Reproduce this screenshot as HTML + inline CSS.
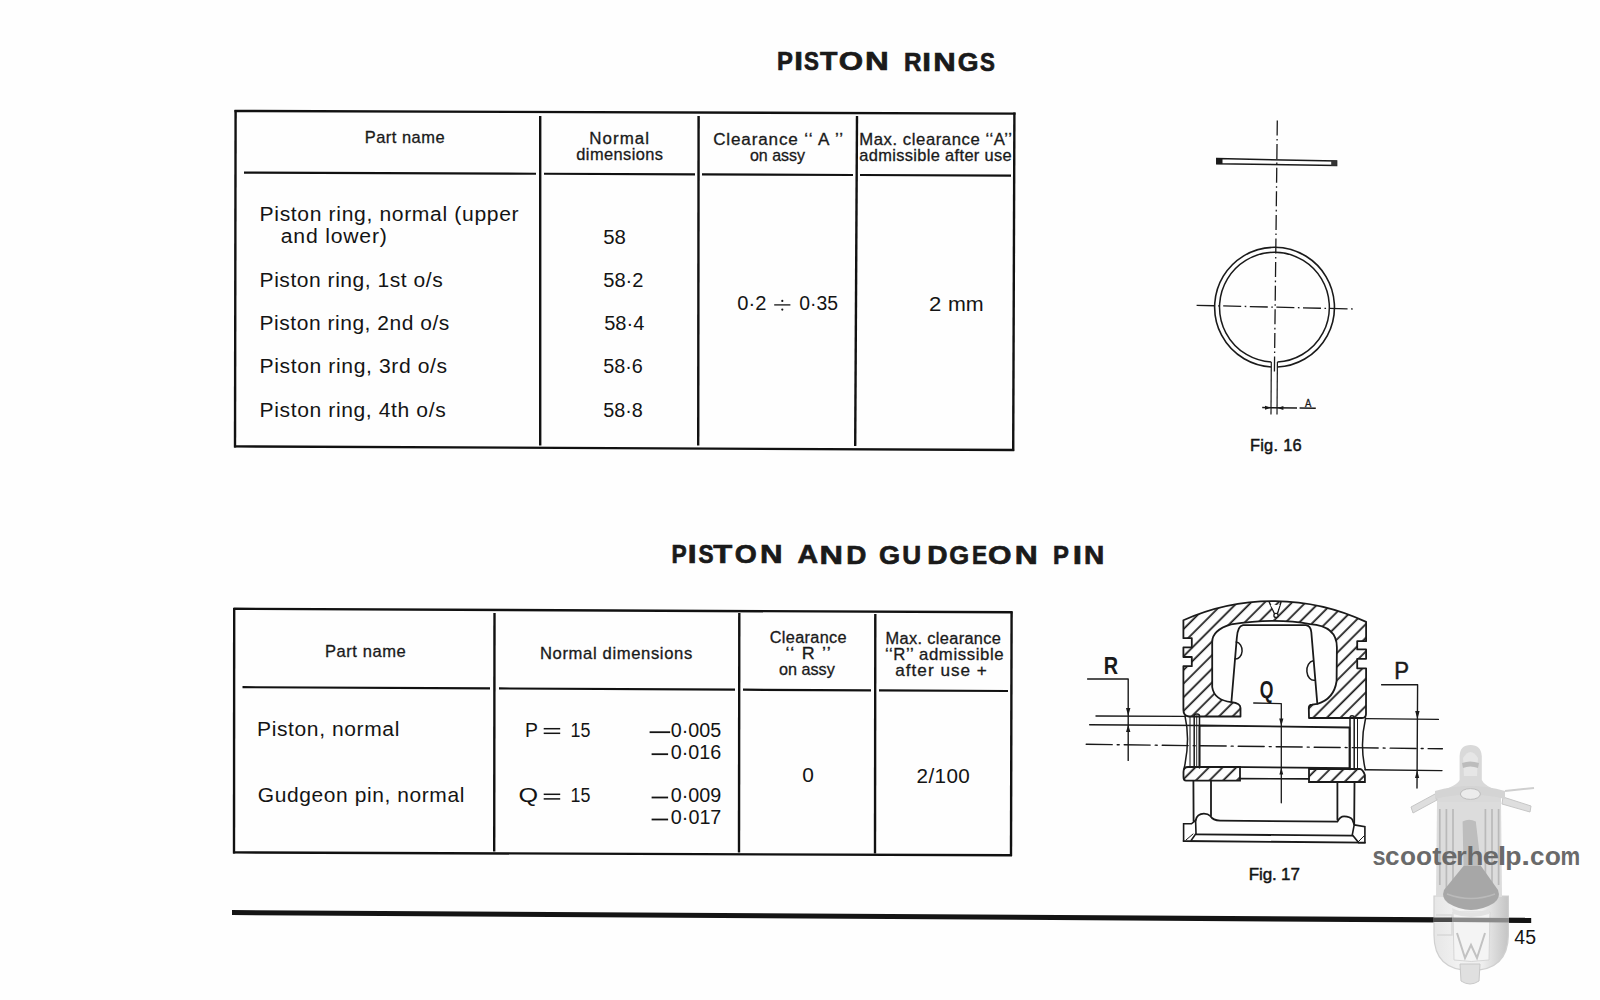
<!DOCTYPE html>
<html><head><meta charset="utf-8"><title>Piston rings</title>
<style>
html,body{margin:0;padding:0;background:#fff;width:1600px;height:1000px;overflow:hidden}
svg{display:block;font-family:"Liberation Sans",sans-serif}
</style></head>
<body>
<svg width="1600" height="1000" viewBox="0 0 1600 1000">
<rect width="1600" height="1000" fill="#fefefe"/>
<line x1="234.5" y1="111" x2="1015.5" y2="113.6" stroke="#111" stroke-width="2.4"/>
<line x1="235.6" y1="110" x2="235.0" y2="447.5" stroke="#111" stroke-width="2.4"/>
<line x1="234.0" y1="446.4" x2="1014.2" y2="450.0" stroke="#111" stroke-width="2.4"/>
<line x1="1014.4" y1="112.5" x2="1013.2" y2="451.0" stroke="#111" stroke-width="2.4"/>
<line x1="540.2" y1="116" x2="540.2" y2="445.5" stroke="#111" stroke-width="2.4"/>
<line x1="698.6" y1="116" x2="698.2" y2="445.5" stroke="#111" stroke-width="2.4"/>
<line x1="857.0" y1="116" x2="855.2" y2="446" stroke="#111" stroke-width="2.4"/>
<line x1="244" y1="172.6" x2="536" y2="173.74" stroke="#111" stroke-width="2.2"/>
<line x1="544" y1="173.77" x2="695" y2="174.36" stroke="#111" stroke-width="2.2"/>
<line x1="702" y1="174.39" x2="853" y2="174.98" stroke="#111" stroke-width="2.2"/>
<line x1="860" y1="175.01" x2="1011" y2="175.6" stroke="#111" stroke-width="2.2"/>
<line x1="233.5" y1="608.8" x2="1012.5" y2="612.3" stroke="#111" stroke-width="2.4"/>
<line x1="234.2" y1="608" x2="234.0" y2="853.5" stroke="#111" stroke-width="2.4"/>
<line x1="233.0" y1="852.4" x2="1012.0" y2="855.3" stroke="#111" stroke-width="2.4"/>
<line x1="1011.6" y1="611.5" x2="1011.0" y2="856.0" stroke="#111" stroke-width="2.4"/>
<line x1="494.5" y1="613" x2="494.2" y2="851.5" stroke="#111" stroke-width="2.4"/>
<line x1="739.3" y1="613" x2="739.0" y2="852.5" stroke="#111" stroke-width="2.4"/>
<line x1="875.3" y1="614" x2="875.0" y2="853.5" stroke="#111" stroke-width="2.4"/>
<line x1="242.5" y1="687.2" x2="490" y2="688.43" stroke="#111" stroke-width="2.2"/>
<line x1="499" y1="688.47" x2="735" y2="689.64" stroke="#111" stroke-width="2.2"/>
<line x1="743" y1="689.68" x2="871" y2="690.32" stroke="#111" stroke-width="2.2"/>
<line x1="879" y1="690.36" x2="1008" y2="691.0" stroke="#111" stroke-width="2.2"/>
<line x1="543.7" y1="728.7" x2="560.2" y2="728.7" stroke="#141414" stroke-width="1.5"/>
<line x1="543.7" y1="733.3000000000001" x2="560.2" y2="733.3000000000001" stroke="#141414" stroke-width="1.5"/>
<line x1="543.7" y1="794.3" x2="560.2" y2="794.3" stroke="#141414" stroke-width="1.5"/>
<line x1="543.7" y1="798.9" x2="560.2" y2="798.9" stroke="#141414" stroke-width="1.5"/>
<line x1="649.6" y1="732.2" x2="670.2" y2="732.2" stroke="#141414" stroke-width="1.8"/>
<line x1="651.6" y1="754.2" x2="668.1" y2="754.2" stroke="#141414" stroke-width="1.8"/>
<line x1="651.6" y1="797.5" x2="668.1" y2="797.5" stroke="#141414" stroke-width="1.8"/>
<line x1="651.6" y1="819.5" x2="668.1" y2="819.5" stroke="#141414" stroke-width="1.8"/>
<line x1="774.2" y1="304.9" x2="790.4" y2="304.9" stroke="#141414" stroke-width="1.3"/>
<circle cx="782.3" cy="300.9" r="1.1" fill="#141414"/><circle cx="782.3" cy="309.6" r="1.1" fill="#141414"/>
<polygon points="232,910.0 1531.2,917.8 1531.2,923.0 232,915.0" fill="#141414"/>
<line x1="1277.3" y1="120.5" x2="1274.4" y2="372" stroke="#1a1a1a" fill="none" stroke-width="1.3" stroke-dasharray="15 3.5 1.6 3.5"/>
<line x1="1196.6" y1="305.3" x2="1353" y2="309" stroke="#1a1a1a" fill="none" stroke-width="1.3" stroke-dasharray="18 3.5 1.6 3.5"/>
<polygon points="1216.8,158.6 1336.6,161.0 1336.6,165.4 1216.8,163.8" stroke="#1a1a1a" fill="none" stroke-width="1.5"/>
<rect x="1216.5" y="158.3" width="6" height="5.8" fill="#1a1a1a"/>
<rect x="1331.2" y="160.6" width="5.6" height="5.2" fill="#333"/>
<path d="M1271.3,367.01 A59.9,59.9 0 1 1 1277.4,367.03" stroke="#1a1a1a" fill="none" stroke-width="1.6"/>
<path d="M1271.3,362.01 A54.9,54.9 0 1 1 1277.4,362.02" stroke="#1a1a1a" fill="none" stroke-width="1.5"/>
<line x1="1271.3" y1="362.01" x2="1271.0" y2="414.5" stroke="#1a1a1a" fill="none" stroke-width="1.2"/>
<line x1="1277.4" y1="362.02" x2="1277.0" y2="414.5" stroke="#1a1a1a" fill="none" stroke-width="1.2"/>
<path d="M1262.2,407.6 L1297,407.9 M1299.6,407.9 L1315.8,408.2" stroke="#1a1a1a" fill="none" stroke-width="1.5"/>
<polygon points="1271,407.8 1265,405.8 1265,409.8" fill="#1a1a1a"/>
<polygon points="1277.4,407.9 1283.4,405.9 1283.4,409.9" fill="#1a1a1a"/>
<defs><pattern id="hatch" patternUnits="userSpaceOnUse" width="9.65" height="9.65" patternTransform="rotate(-45)"><line x1="-1" y1="7.92" x2="10.65" y2="7.92" stroke="#1a1a1a" stroke-width="1.75"/></pattern></defs>
<path d="M1183.4,620.2 A219,219 0 0 1 1366.1,621.9 L1366.1,641.2 L1357.2,641.2 L1357.2,649.4 L1366.1,649.4 L1366.1,658.8 L1357.2,658.8 L1357.2,668.3 L1366.1,668.3 L1366,714 Q1366,718 1362,718 L1309,718 L1308.8,708 Q1308.8,704.8 1312,704.6 L1317.5,703.8 Q1334,699 1336.6,681 L1336.9,647.5 Q1336.9,626 1310,624.2 Q1276,617.5 1231,624.4 Q1212.2,630 1212.2,642 L1212.2,687 Q1214,700 1231.4,702.2 Q1240.5,703.2 1240.5,708 L1240.5,716.5 L1189,716.5 Q1183.4,716 1183.4,710 L1183.4,666.2 L1191.8,666.2 L1191.8,657 L1183.4,657 L1183.4,647.4 L1191.8,647.4 L1191.8,638.2 L1183.4,638.2 Z" fill="url(#hatch)" stroke="#1a1a1a" stroke-width="1.8" stroke-linejoin="round"/>
<path d="M1269.2,602 L1274.8,614.5 M1281,602 L1277.2,614.5" stroke="#1a1a1a" fill="none" stroke-linejoin="round" stroke-linecap="round" stroke-width="1.4"/>
<path d="M1270.5,605 L1279.7,605 L1276,614 Z" fill="#fff" stroke="none"/>
<circle cx="1276" cy="615.4" r="2.1" fill="#fff" stroke="#1a1a1a" stroke-width="1.3"/>
<path d="M1231.4,702 L1236.8,638 Q1237.6,626 1243,625.2 L1306,625.2 Q1310.6,626 1311.3,632 L1317.3,703.6" stroke="#1a1a1a" fill="none" stroke-linejoin="round" stroke-linecap="round" stroke-width="1.8"/>
<path d="M1236.2,642 A6.5,8.5 0 0 1 1235.0,659" stroke="#1a1a1a" fill="none" stroke-linejoin="round" stroke-linecap="round" stroke-width="1.5"/>
<path d="M1313.2,660.8 A7,9.6 0 0 0 1314.8,680.3" stroke="#1a1a1a" fill="none" stroke-linejoin="round" stroke-linecap="round" stroke-width="1.5"/>
<path d="M1199.5,725.5 L1349.5,727.5 M1199.5,766.6 L1349.5,768.1 M1199.5,725.5 L1199.5,766.6 M1349.5,727.5 L1349.5,768.1" stroke="#1a1a1a" fill="none" stroke-linejoin="round" stroke-linecap="round" stroke-width="1.8"/>
<path d="M1194.2,768 L1194.2,716 Q1194.2,714 1196.8,714 Q1199.5,714 1199.5,716 L1199.5,768" stroke="#1a1a1a" fill="none" stroke-linejoin="round" stroke-linecap="round" stroke-width="1.5"/>
<line x1="1196.7" y1="716" x2="1196.7" y2="767" stroke="#1a1a1a" fill="none" stroke-linejoin="round" stroke-linecap="round" stroke-width="0.9"/>
<path d="M1350,769.5 L1350,718 Q1350,715.8 1352,715.8 Q1354.2,715.8 1354.2,718 L1354.2,769.5" stroke="#1a1a1a" fill="none" stroke-linejoin="round" stroke-linecap="round" stroke-width="1.5"/>
<line x1="1357.5" y1="718" x2="1357.5" y2="769" stroke="#1a1a1a" fill="none" stroke-linejoin="round" stroke-linecap="round" stroke-width="1.0"/>
<path d="M1185,716 Q1190.5,740 1184,769" stroke="#1a1a1a" fill="none" stroke-linejoin="round" stroke-linecap="round" stroke-width="1.5"/>
<line x1="1190" y1="717" x2="1190" y2="767.5" stroke="#1a1a1a" fill="none" stroke-linejoin="round" stroke-linecap="round" stroke-width="1.0"/>
<path d="M1365.6,718 Q1359.5,745 1365.3,769.5" stroke="#1a1a1a" fill="none" stroke-linejoin="round" stroke-linecap="round" stroke-width="1.5"/>
<path d="M1188,767 L1240,767 L1240,780.6 L1186,780.6 Q1183.5,780.6 1183.5,777 L1183.5,772 Q1183.5,767 1188,767 Z" fill="url(#hatch)" stroke="#1a1a1a" stroke-width="1.8"/>
<path d="M1309,769 L1360,769 Q1362.5,769 1364.9,775 L1364.9,782 L1309,782 Z" fill="url(#hatch)" stroke="#1a1a1a" stroke-width="1.8"/>
<line x1="1240" y1="778.6" x2="1309" y2="778.9" stroke="#1a1a1a" fill="none" stroke-linejoin="round" stroke-linecap="round" stroke-width="1.6"/>
<path d="M1193.4,781 L1193.6,821 M1354.5,782 L1354.2,824 M1211,781 L1211,815.5 M1337.4,782 L1337.4,819.5" stroke="#1a1a1a" fill="none" stroke-linejoin="round" stroke-linecap="round" stroke-width="1.8"/>
<path d="M1195.6,820.5 Q1197,813.6 1203.9,813.6 Q1208,813.6 1210.3,816 Q1213,820.4 1220,820.6 L1337.4,821.7 Q1340,816.3 1344.1,816.3 Q1350,816.3 1352.3,819.5 L1354.2,824.5" stroke="#1a1a1a" fill="none" stroke-linejoin="round" stroke-linecap="round" stroke-width="1.8"/>
<path d="M1196,834.3 L1352.3,835.7 M1183.6,841 L1364.9,842.6" stroke="#1a1a1a" fill="none" stroke-linejoin="round" stroke-linecap="round" stroke-width="1.8"/>
<path d="M1183.6,823.8 L1191.5,823.8 L1195.6,820.3 L1196,833.5 L1190.8,841 L1183.6,841 Z" fill="#fff" stroke="#1a1a1a" stroke-width="1.6"/>
<path d="M1354.2,824.9 L1364.9,826.7 L1364.9,842.6 L1358.6,842.6 L1352.3,834.8 Z" fill="#fff" stroke="#1a1a1a" stroke-width="1.6"/>
<path d="M1186,840 L1193,834 M1358,842 L1364,836" stroke="#1a1a1a" fill="none" stroke-linejoin="round" stroke-linecap="round" stroke-width="1.0"/>
<line x1="1086.2" y1="744.3" x2="1442.4" y2="748.8" stroke="#1a1a1a" fill="none" stroke-linejoin="round" stroke-linecap="round" stroke-width="1.4" stroke-dasharray="26 5 2 5" stroke-linecap="butt"/>
<path d="M1087.6,679 L1128.2,679 L1128.2,760.4" stroke="#1a1a1a" fill="none" stroke-linejoin="round" stroke-linecap="round" stroke-width="1.4"/>
<line x1="1096" y1="716" x2="1185" y2="716.4" stroke="#1a1a1a" fill="none" stroke-linejoin="round" stroke-linecap="round" stroke-width="1.4"/>
<line x1="1089.7" y1="724.7" x2="1199.5" y2="725.5" stroke="#1a1a1a" fill="none" stroke-linejoin="round" stroke-linecap="round" stroke-width="1.5"/>
<polygon points="1128.2,716 1126,708 1130.4,708" fill="#1a1a1a"/>
<polygon points="1128.2,724.7 1126,732 1130.4,732" fill="#1a1a1a"/>
<path d="M1253.7,703 L1281.3,703.6 L1281.3,802.8" stroke="#1a1a1a" fill="none" stroke-linejoin="round" stroke-linecap="round" stroke-width="1.3"/>
<polygon points="1281.3,726 1279.2,718.5 1283.4,718.5" fill="#1a1a1a"/>
<polygon points="1281.3,767.6 1279.4,774.5 1283.2,774.5" fill="#1a1a1a"/>
<path d="M1381.6,684.8 L1417.6,684.8 L1417,788" stroke="#1a1a1a" fill="none" stroke-linejoin="round" stroke-linecap="round" stroke-width="1.4"/>
<line x1="1366" y1="718.6" x2="1438.4" y2="719.4" stroke="#1a1a1a" fill="none" stroke-linejoin="round" stroke-linecap="round" stroke-width="1.4"/>
<line x1="1365" y1="769.8" x2="1442" y2="770.6" stroke="#1a1a1a" fill="none" stroke-linejoin="round" stroke-linecap="round" stroke-width="1.4"/>
<polygon points="1417.4,719.2 1415.2,711 1419.6,711" fill="#1a1a1a"/>
<polygon points="1417.1,770.4 1415,778 1419.2,778" fill="#1a1a1a"/>
<g>
<defs><linearGradient id="rb" x1="0" x2="1" y1="0" y2="0"><stop offset="0" stop-color="#e6e6e6"/><stop offset="0.35" stop-color="#f2f2f2"/><stop offset="0.65" stop-color="#eeeeee"/><stop offset="1" stop-color="#c4c4c4"/></linearGradient></defs>
<path d="M1434,896 L1508.4,896 L1508.4,935 Q1508,970.5 1471,970.5 Q1434,970.5 1434,935 Z" fill="url(#rb)" stroke="#d0d0d0" stroke-width="1.2"/>
<path d="M1453,912 L1490,912 L1489,960 Q1471,963 1454,960 Z" fill="#f4f4f4" stroke="#d6d6d6" stroke-width="1"/>
<path d="M1457,933 L1465,958 L1471,945 L1477,958 L1485,933" stroke="#c2c2c2" stroke-width="2" fill="none"/>
<path d="M1436,915 L1452,915 L1452,935 L1437,935" stroke="#d8d8d8" stroke-width="1.5" fill="none"/>
<path d="M1460,964 L1480,964 L1479,981 Q1470,987 1461,981 Z" fill="#e0e0e0" stroke="#c8c8c8" stroke-width="1"/>
<path d="M1437,800 L1501,800 L1502,897 L1436,897 Z" fill="#dcdcdc"/>
<path d="M1439.8,809 L1439.8,885 M1446.4,809 L1446.4,890 M1453,809 L1453,890 M1485.4,809 L1485.4,890 M1492,809 L1492,890 M1498.6,809 L1498.6,885" stroke="#b9b9b9" stroke-width="1.7" fill="none"/>
<path d="M1459.6,780 L1459.6,756 Q1460,745 1470.5,745 Q1481,745 1481.8,756 L1481.8,780 Q1484,786 1501,792 L1501,802 L1437,802 L1437,792 Q1457,786 1459.6,780 Z" fill="#d9d9d9"/>
<path d="M1463,758 Q1470.5,746 1478,758 L1477,776 L1464,776 Z" fill="#e6e6e6"/>
<path d="M1462,763 Q1470,760 1479,763 L1478,768 Q1470,765 1463,768 Z" fill="#bcbcbc"/>
<path d="M1411,807 L1435,794 L1437,800 L1413,813 Z" fill="#dedede" stroke="#c6c6c6" stroke-width="1"/>
<path d="M1503,797 L1531,806 L1530,812 L1502,804 Z" fill="#dedede" stroke="#c6c6c6" stroke-width="1"/>
<path d="M1435,791 Q1470,781 1505,791 L1505,799 Q1470,790 1435,799 Z" fill="#d4d4d4"/>
<path d="M1505,791 L1534,788" stroke="#cfcfcf" stroke-width="2" fill="none"/>
<ellipse cx="1470.4" cy="794" rx="10" ry="5.4" fill="#ececec" stroke="#bdbdbd" stroke-width="1"/>
<path d="M1462.6,821.6 Q1469,818 1475.8,821.6 L1481,866 L1463.5,866 Z" fill="#bdbdbd"/>
<path d="M1463.5,866 L1481,866 L1498,890 Q1501,898 1494,903 Q1471,917 1448,903 Q1441,898 1444,890 Z" fill="#a7a7a7"/>
<path d="M1447,894 Q1471,903 1495,894" stroke="#bababa" stroke-width="1.5" fill="none"/>
<path d="M1452,908 Q1471,918 1490,908 L1489,914 Q1471,920 1453,914 Z" fill="#e2e2e2"/>
<polygon points="1433,917.4 1452,917.5 1452,922 1433,921.9" fill="#4a4a4a"/>
<polygon points="1452,917.5 1509,917.9 1509,922.4 1452,922" fill="#8a8a8a"/>
</g>
<text transform="translate(364.65 143.00) scale(1.0305 1)" letter-spacing="0.494" font-size="15.99" font-weight="normal" fill="#1a1a1a" stroke="#1a1a1a" stroke-width="0.3">Part name</text>
<text transform="translate(589.21 143.75) scale(1.0588 1)" letter-spacing="1.013" font-size="15.99" font-weight="normal" fill="#1a1a1a" stroke="#1a1a1a" stroke-width="0.3">Normal</text>
<text transform="translate(576.31 159.75) scale(1.0258 1)" letter-spacing="0.414" font-size="15.99" font-weight="normal" fill="#1a1a1a" stroke="#1a1a1a" stroke-width="0.3">dimensions</text>
<text transform="translate(713.13 145.00) scale(1.0690 1)" letter-spacing="0.801" font-size="15.99" font-weight="normal" fill="#1a1a1a" stroke="#1a1a1a" stroke-width="0.3">Clearance ‘‘ A ’’</text>
<text transform="translate(749.93 161.00) scale(1.0001 1)" font-size="15.99" font-weight="normal" fill="#1a1a1a" stroke="#1a1a1a" stroke-width="0.3">on assy</text>
<text transform="translate(859.23 145.00) scale(1.0438 1)" letter-spacing="0.549" font-size="15.99" font-weight="normal" fill="#1a1a1a" stroke="#1a1a1a" stroke-width="0.3">Max. clearance ‘‘A’’</text>
<text transform="translate(859.31 161.25) scale(1.0253 1)" letter-spacing="0.340" font-size="15.99" font-weight="normal" fill="#1a1a1a" stroke="#1a1a1a" stroke-width="0.3">admissible after use</text>
<text transform="translate(259.57 221.00) scale(1.0377 1)" letter-spacing="0.626" font-size="20.35" font-weight="normal" fill="#141414" >Piston ring, normal (upper</text>
<text transform="translate(280.71 242.50) scale(1.0419 1)" letter-spacing="0.770" font-size="20.35" font-weight="normal" fill="#141414" >and lower)</text>
<text transform="translate(259.58 287.00) scale(1.0333 1)" letter-spacing="0.520" font-size="20.35" font-weight="normal" fill="#141414" >Piston ring, 1st o/s</text>
<text transform="translate(259.58 330.00) scale(1.0319 1)" letter-spacing="0.519" font-size="20.35" font-weight="normal" fill="#141414" >Piston ring, 2nd o/s</text>
<text transform="translate(259.57 373.00) scale(1.0376 1)" letter-spacing="0.592" font-size="20.35" font-weight="normal" fill="#141414" >Piston ring, 3rd o/s</text>
<text transform="translate(259.57 416.50) scale(1.0370 1)" letter-spacing="0.580" font-size="20.35" font-weight="normal" fill="#141414" >Piston ring, 4th o/s</text>
<text transform="translate(603.18 244.00) scale(1.0029 1)" font-size="20.35" font-weight="normal" fill="#141414" >58</text>
<text transform="translate(603.19 287.00) scale(0.9901 1)" font-size="20.35" font-weight="normal" fill="#141414" >58·2</text>
<text transform="translate(604.20 330.00) scale(0.9857 1)" font-size="20.35" font-weight="normal" fill="#141414" >58·4</text>
<text transform="translate(603.21 373.00) scale(0.9741 1)" font-size="20.35" font-weight="normal" fill="#141414" >58·6</text>
<text transform="translate(603.21 416.50) scale(0.9736 1)" font-size="20.35" font-weight="normal" fill="#141414" >58·8</text>
<text transform="translate(324.94 657.40) scale(1.0340 1)" letter-spacing="0.547" font-size="15.99" font-weight="normal" fill="#1a1a1a" stroke="#1a1a1a" stroke-width="0.3">Part name</text>
<text transform="translate(539.94 659.00) scale(1.0403 1)" letter-spacing="0.607" font-size="15.99" font-weight="normal" fill="#1a1a1a" stroke="#1a1a1a" stroke-width="0.3">Normal dimensions</text>
<text transform="translate(769.77 643.00) scale(1.0198 1)" letter-spacing="0.322" font-size="15.99" font-weight="normal" fill="#1a1a1a" stroke="#1a1a1a" stroke-width="0.3">Clearance</text>
<text transform="translate(785.49 659.00) scale(1.1203 1)" letter-spacing="1.066" font-size="15.99" font-weight="normal" fill="#1a1a1a" stroke="#1a1a1a" stroke-width="0.3">‘‘ R ’’</text>
<text transform="translate(778.92 675.00) scale(1.0139 1)" font-size="15.99" font-weight="normal" fill="#1a1a1a" stroke="#1a1a1a" stroke-width="0.3">on assy</text>
<text transform="translate(885.56 643.60) scale(1.0230 1)" letter-spacing="0.342" font-size="15.99" font-weight="normal" fill="#1a1a1a" stroke="#1a1a1a" stroke-width="0.3">Max. clearance</text>
<text transform="translate(884.96 660.00) scale(1.0481 1)" letter-spacing="0.585" font-size="15.99" font-weight="normal" fill="#1a1a1a" stroke="#1a1a1a" stroke-width="0.3">‘‘R’’ admissible</text>
<text transform="translate(895.28 676.00) scale(1.0726 1)" letter-spacing="0.937" font-size="15.99" font-weight="normal" fill="#1a1a1a" stroke="#1a1a1a" stroke-width="0.3">after use +</text>
<text transform="translate(257.08 736.00) scale(1.0333 1)" letter-spacing="0.585" font-size="20.35" font-weight="normal" fill="#141414" >Piston, normal</text>
<text transform="translate(257.75 801.80) scale(1.0309 1)" letter-spacing="0.580" font-size="20.35" font-weight="normal" fill="#141414" >Gudgeon pin, normal</text>
<text transform="translate(737.31 310.00) scale(0.9894 1)" font-size="20.35" font-weight="normal" fill="#141414" >0·2</text>
<text transform="translate(799.24 310.00) scale(0.9521 1)" font-size="20.35" font-weight="normal" fill="#141414" >0·35</text>
<text transform="translate(928.89 310.60) scale(1.0885 1)" font-size="20.35" font-weight="normal" fill="#141414" >2</text>
<text transform="translate(947.98 310.60) scale(1.0540 1)" font-size="20.35" font-weight="normal" fill="#141414" >mm</text>
<text transform="translate(524.91 736.70) scale(0.9515 1)" font-size="20.35" font-weight="normal" fill="#141414" >P</text>
<text transform="translate(570.54 736.70) scale(0.8800 1)" font-size="20.35" font-weight="normal" fill="#141414" >15</text>
<text transform="translate(518.42 802.30) scale(1.2376 1)" font-size="20.35" font-weight="normal" fill="#141414" >Q</text>
<text transform="translate(570.54 802.30) scale(0.8800 1)" font-size="20.35" font-weight="normal" fill="#141414" >15</text>
<text transform="translate(670.83 736.70) scale(0.9686 1)" font-size="20.35" font-weight="normal" fill="#141414" >0·005</text>
<text transform="translate(670.83 759.00) scale(0.9693 1)" font-size="20.35" font-weight="normal" fill="#141414" >0·016</text>
<text transform="translate(670.83 802.30) scale(0.9705 1)" font-size="20.35" font-weight="normal" fill="#141414" >0·009</text>
<text transform="translate(670.83 824.30) scale(0.9717 1)" font-size="20.35" font-weight="normal" fill="#141414" >0·017</text>
<text transform="translate(802.18 782.25) scale(1.0281 1)" font-size="20.35" font-weight="normal" fill="#141414" >0</text>
<text transform="translate(916.57 782.50) scale(1.0164 1)" letter-spacing="0.367" font-size="20.35" font-weight="normal" fill="#141414" >2/100</text>
<text x="1249.90" y="450.50" letter-spacing="0.268" font-size="16.42" font-weight="normal" fill="#141414" stroke="#141414" stroke-width="0.45">Fig. 16</text>
<text x="1248.86" y="879.50" letter-spacing="-0.165" font-size="17.01" font-weight="normal" fill="#141414" stroke="#141414" stroke-width="0.45">Fig. 17</text>
<text transform="translate(1103.87 674.00) scale(0.8237 1)" font-size="24.13" font-weight="bold" fill="#1a1a1a" >R</text>
<text transform="translate(1259.68 698.20) scale(0.7455 1)" font-size="23.55" font-weight="bold" fill="#1a1a1a" >Q</text>
<text transform="translate(1394.18 678.50) scale(0.9362 1)" font-size="23.69" font-weight="normal" fill="#1a1a1a" stroke="#1a1a1a" stroke-width="0.5">P</text>
<text transform="translate(1305.08 406.60) scale(0.8490 1)" font-size="11.19" font-weight="normal" fill="#1a1a1a" stroke="#1a1a1a" stroke-width="0.3">A</text>
<text transform="translate(1514.35 943.60) scale(0.9309 1)" font-size="20.93" font-weight="normal" fill="#141414" >45</text>
<text transform="translate(777.00 70.12) scale(0.907 1)" font-size="26.31" font-weight="bold" fill="#1a1a1a" stroke="#1a1a1a" stroke-width="0.7">P</text>
<text transform="translate(794.21 70.16) scale(1.188 1)" font-size="26.31" font-weight="bold" fill="#1a1a1a" stroke="#1a1a1a" stroke-width="0.7">I</text>
<text transform="translate(804.10 70.21) scale(0.850 1)" font-size="26.31" font-weight="bold" fill="#1a1a1a" stroke="#1a1a1a" stroke-width="0.7">S</text>
<text transform="translate(819.99 70.26) scale(1.084 1)" font-size="26.31" font-weight="bold" fill="#1a1a1a" stroke="#1a1a1a" stroke-width="0.7">T</text>
<text transform="translate(838.81 70.34) scale(1.192 1)" font-size="26.31" font-weight="bold" fill="#1a1a1a" stroke="#1a1a1a" stroke-width="0.7">O</text>
<text transform="translate(864.98 70.42) scale(1.250 1)" font-size="26.31" font-weight="bold" fill="#1a1a1a" stroke="#1a1a1a" stroke-width="0.7">N</text>
<text transform="translate(903.97 70.54) scale(0.923 1)" font-size="26.31" font-weight="bold" fill="#1a1a1a" stroke="#1a1a1a" stroke-width="0.7">R</text>
<text transform="translate(922.31 70.58) scale(1.188 1)" font-size="26.31" font-weight="bold" fill="#1a1a1a" stroke="#1a1a1a" stroke-width="0.7">I</text>
<text transform="translate(933.21 70.64) scale(1.183 1)" font-size="26.31" font-weight="bold" fill="#1a1a1a" stroke="#1a1a1a" stroke-width="0.7">N</text>
<text transform="translate(957.81 70.72) scale(1.014 1)" font-size="26.31" font-weight="bold" fill="#1a1a1a" stroke="#1a1a1a" stroke-width="0.7">G</text>
<text transform="translate(980.05 70.78) scale(0.850 1)" font-size="26.31" font-weight="bold" fill="#1a1a1a" stroke="#1a1a1a" stroke-width="0.7">S</text>
<text transform="translate(1372.58 865.00) scale(0.931 1)" font-size="25.29" font-weight="bold" fill="#6a6a6a" >s</text>
<text transform="translate(1384.98 865.00) scale(1.033 1)" font-size="25.29" font-weight="bold" fill="#6a6a6a" >c</text>
<text transform="translate(1399.88 865.00) scale(1.039 1)" font-size="25.29" font-weight="bold" fill="#6a6a6a" >o</text>
<text transform="translate(1415.98 865.00) scale(1.039 1)" font-size="25.29" font-weight="bold" fill="#6a6a6a" >o</text>
<text transform="translate(1432.17 865.00) scale(1.088 1)" font-size="25.29" font-weight="bold" fill="#6a6a6a" >t</text>
<text transform="translate(1441.16 865.00) scale(1.154 1)" font-size="25.29" font-weight="bold" fill="#6a6a6a" >e</text>
<text transform="translate(1455.99 865.00) scale(1.085 1)" font-size="25.29" font-weight="bold" fill="#6a6a6a" >r</text>
<text transform="translate(1466.46 865.00) scale(1.098 1)" font-size="25.29" font-weight="bold" fill="#6a6a6a" >h</text>
<text transform="translate(1482.66 865.00) scale(1.154 1)" font-size="25.29" font-weight="bold" fill="#6a6a6a" >e</text>
<text transform="translate(1497.85 865.00) scale(1.212 1)" font-size="25.29" font-weight="bold" fill="#6a6a6a" >l</text>
<text transform="translate(1505.25 865.00) scale(1.051 1)" font-size="25.29" font-weight="bold" fill="#6a6a6a" >p</text>
<text transform="translate(1521.27 865.00) scale(1.250 1)" font-size="25.29" font-weight="bold" fill="#6a6a6a" >.</text>
<text transform="translate(1529.89 865.00) scale(1.029 1)" font-size="25.29" font-weight="bold" fill="#6a6a6a" >c</text>
<text transform="translate(1544.67 865.00) scale(1.046 1)" font-size="25.29" font-weight="bold" fill="#6a6a6a" >o</text>
<text transform="translate(1560.44 865.00) scale(0.875 1)" font-size="25.29" font-weight="bold" fill="#6a6a6a" >m</text>
<text transform="translate(671.57 563.02) scale(0.857 1)" font-size="26.60" font-weight="bold" fill="#1a1a1a" stroke="#1a1a1a" stroke-width="0.7">P</text>
<text transform="translate(687.76 563.06) scale(1.201 1)" font-size="26.60" font-weight="bold" fill="#1a1a1a" stroke="#1a1a1a" stroke-width="0.7">I</text>
<text transform="translate(698.57 563.11) scale(0.850 1)" font-size="26.60" font-weight="bold" fill="#1a1a1a" stroke="#1a1a1a" stroke-width="0.7">S</text>
<text transform="translate(713.26 563.16) scale(1.168 1)" font-size="26.60" font-weight="bold" fill="#1a1a1a" stroke="#1a1a1a" stroke-width="0.7">T</text>
<text transform="translate(734.74 563.24) scale(1.066 1)" font-size="26.60" font-weight="bold" fill="#1a1a1a" stroke="#1a1a1a" stroke-width="0.7">O</text>
<text transform="translate(760.00 563.32) scale(1.176 1)" font-size="26.60" font-weight="bold" fill="#1a1a1a" stroke="#1a1a1a" stroke-width="0.7">N</text>
<text transform="translate(797.49 563.44) scale(1.070 1)" font-size="26.60" font-weight="bold" fill="#1a1a1a" stroke="#1a1a1a" stroke-width="0.7">A</text>
<text transform="translate(819.62 563.52) scale(1.221 1)" font-size="26.60" font-weight="bold" fill="#1a1a1a" stroke="#1a1a1a" stroke-width="0.7">N</text>
<text transform="translate(846.23 563.60) scale(1.049 1)" font-size="26.60" font-weight="bold" fill="#1a1a1a" stroke="#1a1a1a" stroke-width="0.7">D</text>
<text transform="translate(879.09 563.71) scale(1.019 1)" font-size="26.60" font-weight="bold" fill="#1a1a1a" stroke="#1a1a1a" stroke-width="0.7">G</text>
<text transform="translate(902.18 563.78) scale(0.985 1)" font-size="26.60" font-weight="bold" fill="#1a1a1a" stroke="#1a1a1a" stroke-width="0.7">U</text>
<text transform="translate(927.36 563.86) scale(1.058 1)" font-size="26.60" font-weight="bold" fill="#1a1a1a" stroke="#1a1a1a" stroke-width="0.7">D</text>
<text transform="translate(949.20 563.93) scale(0.961 1)" font-size="26.60" font-weight="bold" fill="#1a1a1a" stroke="#1a1a1a" stroke-width="0.7">G</text>
<text transform="translate(972.02 564.00) scale(0.850 1)" font-size="26.60" font-weight="bold" fill="#1a1a1a" stroke="#1a1a1a" stroke-width="0.7">E</text>
<text transform="translate(988.01 564.06) scale(1.136 1)" font-size="26.60" font-weight="bold" fill="#1a1a1a" stroke="#1a1a1a" stroke-width="0.7">O</text>
<text transform="translate(1014.86 564.15) scale(1.199 1)" font-size="26.60" font-weight="bold" fill="#1a1a1a" stroke="#1a1a1a" stroke-width="0.7">N</text>
<text transform="translate(1052.90 564.27) scale(0.897 1)" font-size="26.60" font-weight="bold" fill="#1a1a1a" stroke="#1a1a1a" stroke-width="0.7">P</text>
<text transform="translate(1072.75 564.32) scale(1.250 1)" font-size="26.60" font-weight="bold" fill="#1a1a1a" stroke="#1a1a1a" stroke-width="0.7">I</text>
<text transform="translate(1084.12 564.37) scale(1.055 1)" font-size="26.60" font-weight="bold" fill="#1a1a1a" stroke="#1a1a1a" stroke-width="0.7">N</text>
</svg>
</body></html>
